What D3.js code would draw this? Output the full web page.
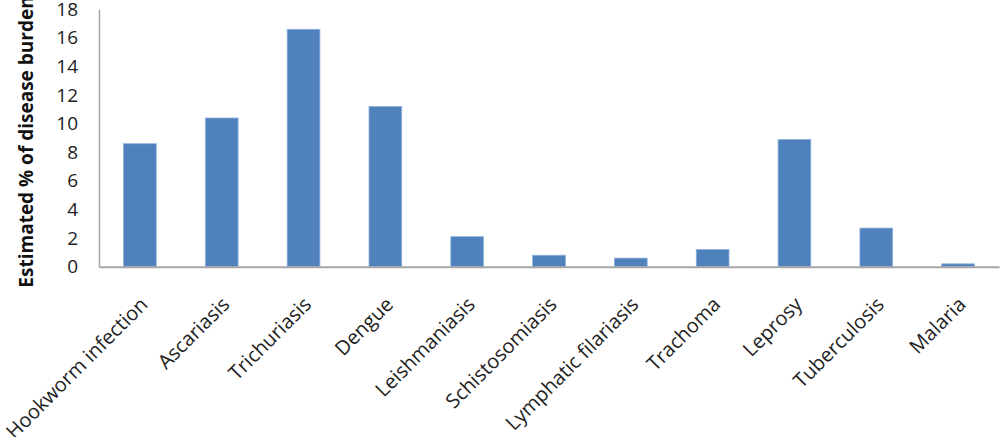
<!DOCTYPE html>
<html>
<head>
<meta charset="utf-8">
<script src="https://cdn.jsdelivr.net/npm/d3@7"></script>
<style>
  body { margin: 0; background: #fff; }
  svg { display: block; }
  .tick text { font-family: "Open Sans", sans-serif; }
</style>
</head>
<body>
<div id="chart"></div>
<script>
// categories and values
var diseases = ['Hookworm infection', 'Ascariasis', 'Trichuriasis', 'Dengue', 'Leishmaniasis',
    'Schistosomiasis', 'Lymphatic filariasis', 'Trachoma', 'Leprosy', 'Tuberculosis', 'Malaria'];
var burden = [8.6, 10.4, 16.6, 11.2, 2.1, 0.8, 0.6, 1.2, 8.9, 2.7, 0.2];
var yTicks = [0, 2, 4, 6, 8, 10, 12, 14, 16, 18];
var yTitle = 'Estimated % of disease burden';

var width = 1000,
    height = 437,
    plot = { left: 99, right: 999, top: 9.3, bottom: 266.7 };

var svg = d3.select('#chart').append('svg')
    .attr('width', width)
    .attr('height', height);

var x = d3.scaleBand()
    .domain(diseases)
    .range([plot.left, plot.right])
    .paddingInner(0.6)
    .paddingOuter(0.3);

var y = d3.scaleLinear()
    .domain([0, 18])
    .range([plot.bottom, plot.top]);

// bars
svg.append('g').attr('class', 'bars')
    .selectAll('rect')
    .data(diseases)
    .enter().append('rect')
    .attr('x', function (d) { return x(d); })
    .attr('y', function (d, i) { return y(burden[i]); })
    .attr('width', x.bandwidth())
    .attr('height', function (d, i) { return y(0) - y(burden[i]); })
    .style('fill', '#4f81bd')
    .style('stroke', '#8db0dc')
    .style('stroke-width', 0.8);

// y axis, no tick marks
var yAxis = svg.append('g')
    .attr('transform', 'translate(' + plot.left + ',0)')
    .call(d3.axisLeft(y).tickValues(yTicks).tickSize(0).tickPadding(21));
yAxis.select('.domain').attr('stroke', '#a6a6a6').attr('stroke-width', 1.5);
yAxis.selectAll('.tick text')
    .style('font-size', '19px')
    .style('fill', '#222');

// x axis, labels turned 45 degrees
var xAxis = svg.append('g')
    .attr('transform', 'translate(0,' + plot.bottom + ')')
    .call(d3.axisBottom(x).tickSize(0).tickFormat(''));
xAxis.select('.domain').attr('stroke', '#a6a6a6').attr('stroke-width', 2);

xAxis.selectAll('.tick').append('text')
    .attr('transform', 'translate(9,39) rotate(-45)')
    .attr('text-anchor', 'end')
    .style('font-size', '20px')
    .style('fill', '#222')
    .text(function (d) { return d; });

// axis title
svg.append('text')
    .attr('transform', 'translate(33,' + 142 + ') rotate(-90)')
    .attr('text-anchor', 'middle')
    .style('font-family', '"Open Sans", sans-serif')
    .style('font-weight', 'bold')
    .style('font-size', '19px')
    .style('fill', '#111')
    .text(yTitle);
</script>
</body>
</html>
